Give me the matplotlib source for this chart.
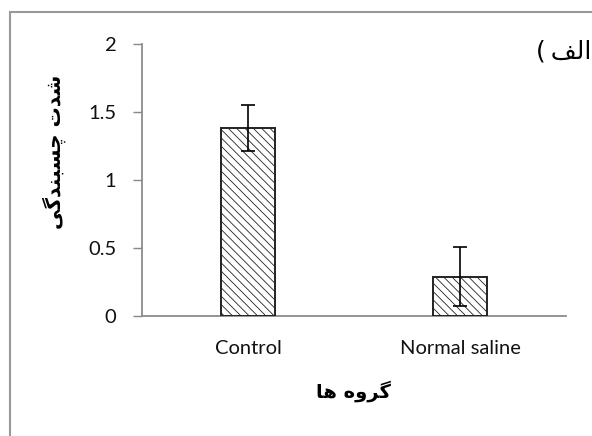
import numpy as np
import matplotlib
matplotlib.use("Agg")
import matplotlib.pyplot as plt
from matplotlib.patches import Rectangle

groups = ["Control", "Normal saline"]
means = [1.38, 0.29]
errs = [0.17, 0.22]
yticks = [0, 0.5, 1, 1.5, 2]
ytick_labels = ["0", "0.5", "1", "1.5", "2"]

# persian labels written in shaped presentation forms, visual order
ylabel_fa = "\uFBFD\uFB94\uFEAA\uFEE8\uFE92\uFEB4\uFB7C \uFE95\uFEAA\uFEB7"  # شدت چسبندگی
xlabel_fa = "\uFE8E\uFEEB \uFEE9\uFEED\uFEAE\uFB94"  # گروه ها
title_fa = "(\u2009\uFED2\uFEDF\uFE8D"  # الف)

plt.rcParams['font.family'] = ['Lato', 'DejaVu Sans']
plt.rcParams['hatch.color'] = '#9a9a9a'
plt.rcParams['hatch.linewidth'] = 0.6

fig = plt.figure(figsize=(5.92, 4.36), dpi=100)
ax = fig.add_axes([142 / 592, 1 - 316 / 436, 424 / 592, 272 / 436])

x = np.arange(len(groups))
ax.bar(x, means, width=0.255, color='white', edgecolor='#222222',
       linewidth=1.4, hatch='\\\\\\\\', zorder=3)
ax.errorbar(x, means, yerr=errs, fmt='none', ecolor='black',
            elinewidth=1.2, capsize=5, capthick=1.2, zorder=4)

ax.set_xlim(-0.5, 1.5)
ax.set_ylim(0, 2)
ax.set_xticks(x)
ax.set_xticklabels(groups, fontsize=14.5)
ax.set_yticks(yticks)
ax.set_yticklabels(ytick_labels, fontsize=14.5)
ax.tick_params(axis='x', length=0, pad=17, colors='#111111')
ax.tick_params(axis='y', length=6.5, width=1, direction='out', pad=12,
               color='#888888', labelcolor='#111111')
for s in ['top', 'right']:
    ax.spines[s].set_visible(False)
for s in ['left', 'bottom']:
    ax.spines[s].set_color('#8c8c8c')
    ax.spines[s].set_linewidth(1.3)

fig.text(54 / 592, 1 - 152 / 436, ylabel_fa, rotation=90, ha='center',
         va='center', fontsize=14.5, fontweight='bold', family=['DejaVu Sans'])
fig.text(353 / 592, 1 - 391 / 436, xlabel_fa, ha='center', va='center',
         fontsize=14, fontweight='bold', family=['DejaVu Sans'])
fig.text(536 / 592, 1 - 52 / 436, title_fa, ha='left', va='center',
         fontsize=18, family=['DejaVu Sans'])

fig.patches.append(Rectangle((10 / 592, -0.1), 1.2, 1.1 - 12 / 436,
                             transform=fig.transFigure, fill=False,
                             edgecolor='#999999', linewidth=1.5))

fig.savefig("out.png", dpi=100)
